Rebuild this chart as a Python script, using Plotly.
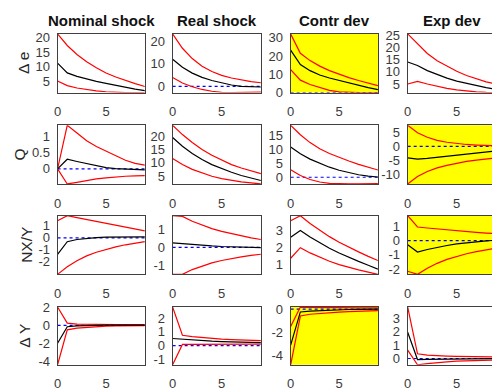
import plotly.graph_objects as go

periods = list(range(10))
shocks = ["Nominal shock", "Real shock", "Contr dev", "Exp dev"]
variables = ["Δ e", "Q", "NX/Y", "Δ Y"]

# ---- Row 1: Δ e ----
de_nominal_upper = [21.3, 17.3, 14.2, 11.7, 9.6, 7.8, 6.4, 5.2, 4.1, 3.1]
de_nominal_mid = [11.2, 7.8, 6.6, 5.7, 4.9, 4.2, 3.5, 2.8, 2.2, 1.7]
de_nominal_lower = [5.0, 3.4, 2.6, 2.0, 1.6, 1.3, 1.1, 1.0, 1.0, 1.0]
de_real_upper = [23.4, 17.0, 12.4, 9.0, 6.6, 4.9, 3.7, 2.8, 2.1, 1.6]
de_real_mid = [12.1, 8.5, 5.9, 4.0, 2.6, 1.5, 0.6, 0.0, -0.2, -0.3]
de_real_lower = [3.9, 1.5, -0.2, -1.4, -2.2, -2.7, -2.8, -2.8, -2.7, -2.6]
de_contr_upper = [32.1, 21.5, 17.5, 14.5, 12.0, 10.0, 8.2, 6.6, 5.2, 3.8]
de_contr_mid = [23.2, 15.3, 12.0, 9.6, 8.0, 6.6, 5.2, 3.9, 2.7, 1.6]
de_contr_lower = [12.6, 6.8, 4.4, 2.6, 1.2, 0.4, 0.0, 0.0, 0.0, 0.0]
de_exp_upper = [25.5, 21.5, 17.5, 14.5, 12.2, 10.2, 8.5, 7.1, 5.9, 5.0]
de_exp_mid = [14.0, 12.6, 10.5, 8.8, 7.4, 6.2, 5.2, 4.3, 3.5, 2.9]
de_exp_lower = [5.0, 6.1, 5.0, 4.0, 3.2, 2.6, 2.1, 1.8, 1.6, 1.5]

# ---- Row 2: Q ----
q_nominal_upper = [0.0, 1.36, 1.12, 0.88, 0.70, 0.55, 0.40, 0.27, 0.17, 0.12]
q_nominal_mid = [0.0, 0.30, 0.23, 0.16, 0.10, 0.04, 0.01, -0.01, -0.02, -0.03]
q_nominal_lower = [0.0, -0.47, -0.42, -0.36, -0.31, -0.28, -0.25, -0.23, -0.22, -0.21]
q_real_upper = [24.1, 20.6, 17.6, 15.0, 12.8, 10.9, 9.3, 8.0, 6.9, 5.9]
q_real_mid = [19.5, 16.2, 13.5, 11.2, 9.3, 7.7, 6.4, 5.2, 4.2, 3.3]
q_real_lower = [11.6, 9.3, 7.5, 6.1, 4.9, 4.0, 3.3, 2.8, 2.4, 2.0]
q_contr_upper = [18.6, 15.2, 12.4, 10.2, 8.5, 7.1, 5.8, 4.6, 3.5, 2.6]
q_contr_mid = [10.8, 8.4, 6.5, 5.0, 3.6, 2.5, 1.6, 0.9, 0.4, 0.1]
q_contr_lower = [2.7, 0.6, -0.8, -1.7, -2.2, -2.4, -2.4, -2.4, -2.4, -2.3]
q_exp_upper = [7.6, 4.9, 3.3, 2.2, 1.5, 1.0, 0.7, 0.5, 0.3, 0.2]
q_exp_mid = [-4.1, -4.6, -4.3, -3.9, -3.4, -3.0, -2.6, -2.2, -1.9, -1.6]
q_exp_lower = [-13.5, -10.8, -9.0, -7.7, -6.8, -6.0, -5.4, -4.9, -4.5, -4.1]

# ---- Row 3: NX/Y ----
nx_nominal_upper = [1.42, 1.84, 1.68, 1.52, 1.37, 1.22, 1.06, 0.90, 0.74, 0.58]
nx_nominal_mid = [-1.38, -0.32, -0.14, -0.04, 0.02, 0.05, 0.07, 0.08, 0.08, 0.08]
nx_nominal_lower = [-3.04, -2.40, -1.90, -1.50, -1.20, -0.95, -0.75, -0.58, -0.44, -0.32]
nx_real_upper = [1.72, 1.68, 1.42, 1.20, 1.02, 0.87, 0.74, 0.62, 0.52, 0.43]
nx_real_mid = [0.25, 0.20, 0.15, 0.11, 0.08, 0.05, 0.03, 0.01, 0.00, -0.01]
nx_real_lower = [-1.46, -1.46, -1.20, -1.00, -0.84, -0.71, -0.60, -0.51, -0.43, -0.37]
nx_contr_upper = [3.54, 3.83, 3.38, 2.98, 2.62, 2.30, 2.00, 1.74, 1.48, 1.24]
nx_contr_mid = [2.59, 2.98, 2.60, 2.25, 1.95, 1.67, 1.42, 1.19, 0.97, 0.74]
nx_contr_lower = [1.37, 1.98, 1.68, 1.42, 1.20, 1.00, 0.84, 0.70, 0.57, 0.44]
nx_exp_upper = [1.77, 0.97, 0.90, 0.83, 0.77, 0.71, 0.65, 0.59, 0.54, 0.50]
nx_exp_mid = [-0.29, -0.80, -0.62, -0.47, -0.34, -0.23, -0.14, -0.07, -0.01, 0.03]
nx_exp_lower = [-2.16, -2.38, -1.95, -1.60, -1.32, -1.10, -0.92, -0.77, -0.64, -0.52]

# ---- Row 4: Δ Y ----
dy_nominal_upper = [2.05, 0.25, 0.15, 0.12, 0.10, 0.10, 0.10, 0.10, 0.10, 0.10]
dy_nominal_mid = [-2.0, -0.15, -0.05, 0.0, 0.0, 0.02, 0.02, 0.02, 0.02, 0.02]
dy_nominal_lower = [-4.4, -0.50, -0.30, -0.20, -0.12, -0.08, -0.05, -0.04, -0.03, -0.02]
dy_real_upper = [2.8, 0.75, 0.65, 0.58, 0.52, 0.47, 0.43, 0.40, 0.37, 0.35]
dy_real_mid = [0.51, 0.45, 0.40, 0.36, 0.32, 0.29, 0.27, 0.25, 0.23, 0.21]
dy_real_lower = [-1.4, 0.08, 0.09, 0.10, 0.10, 0.10, 0.10, 0.10, 0.10, 0.10]
dy_contr_upper = [-1.5, 0.17, 0.15, 0.13, 0.12, 0.11, 0.10, 0.10, 0.10, 0.10]
dy_contr_mid = [-3.1, -0.25, -0.18, -0.13, -0.09, -0.06, -0.04, -0.03, -0.02, -0.01]
dy_contr_lower = [-4.79, -0.60, -0.45, -0.37, -0.31, -0.26, -0.22, -0.19, -0.16, -0.14]
dy_exp_upper = [3.85, 0.35, 0.25, 0.20, 0.18, 0.16, 0.15, 0.14, 0.13, 0.12]
dy_exp_mid = [1.96, -0.08, -0.06, -0.05, -0.04, -0.03, -0.02, -0.02, -0.01, -0.01]
dy_exp_lower = [0.63, -0.47, -0.38, -0.30, -0.25, -0.20, -0.17, -0.15, -0.13, -0.12]

# y tick values per panel (row by row)
yticks = [
    [[5, 10, 15, 20], [0, 10, 20], [0, 10, 20, 30], [5, 10, 15, 20, 25]],
    [[0, 0.5, 1], [5, 10, 15, 20], [0, 5, 10, 15], [-10, -5, 0, 5]],
    [[-2, -1, 0, 1], [-1, 0, 1], [1, 2, 3], [-2, -1, 0, 1]],
    [[-4, -2, 0, 2], [-1, 0, 1, 2], [-4, -2, 0], [0, 1, 2, 3]],
]
xticks = [0, 5]
highlighted = [(0, 2), (1, 3), (2, 3), (3, 2)]

panels = [
    [(de_nominal_upper, de_nominal_mid, de_nominal_lower),
     (de_real_upper, de_real_mid, de_real_lower),
     (de_contr_upper, de_contr_mid, de_contr_lower),
     (de_exp_upper, de_exp_mid, de_exp_lower)],
    [(q_nominal_upper, q_nominal_mid, q_nominal_lower),
     (q_real_upper, q_real_mid, q_real_lower),
     (q_contr_upper, q_contr_mid, q_contr_lower),
     (q_exp_upper, q_exp_mid, q_exp_lower)],
    [(nx_nominal_upper, nx_nominal_mid, nx_nominal_lower),
     (nx_real_upper, nx_real_mid, nx_real_lower),
     (nx_contr_upper, nx_contr_mid, nx_contr_lower),
     (nx_exp_upper, nx_exp_mid, nx_exp_lower)],
    [(dy_nominal_upper, dy_nominal_mid, dy_nominal_lower),
     (dy_real_upper, dy_real_mid, dy_real_lower),
     (dy_contr_upper, dy_contr_mid, dy_contr_lower),
     (dy_exp_upper, dy_exp_mid, dy_exp_lower)],
]

# ---- layout geometry (pixels) ----
W, H = 492, 392
col_px = [(54, 142), (170, 259), (289, 377), (407, 496)]
row_px = [(28, 89), (123, 184), (217, 278), (312, 372)]
ylabel_x = [19, 16, 22, 21]

FONT = "Liberation Sans, Arial, Helvetica, sans-serif"
TICK_COLOR = "#3a3a3a"
AX_COLOR = "#404040"


def fmt(v):
    return "%g" % v


fig = go.Figure()
layout = dict(
    width=W, height=H, margin=dict(l=0, r=0, t=0, b=0),
    paper_bgcolor="white", plot_bgcolor="white", showlegend=False,
    font=dict(family=FONT, size=13, color=TICK_COLOR),
    annotations=[], shapes=[],
)

n = 0
for r in range(4):
    for c in range(4):
        n += 1
        xa = "xaxis" if n == 1 else "xaxis%d" % n
        ya = "yaxis" if n == 1 else "yaxis%d" % n
        xr = "x" if n == 1 else "x%d" % n
        yr = "y" if n == 1 else "y%d" % n
        upper, mid, lower = panels[r][c]
        x0p, x1p = col_px[c]
        y0p, y1p = row_px[r]
        dom_x1 = min(1.0, x1p / W)
        x_max = 9 * (dom_x1 * W - x0p) / (x1p - x0p)
        ymin = min(min(upper), min(mid), min(lower))
        ymax = max(max(upper), max(mid), max(lower))

        fig.add_trace(go.Scatter(x=periods, y=[0] * len(periods), mode="lines",
                                 line=dict(color="#0000ff", width=1.2, dash="dot"),
                                 xaxis=xr, yaxis=yr, hoverinfo="skip"))
        for series, col in ((upper, "#ff0000"), (lower, "#ff0000"), (mid, "#000000")):
            fig.add_trace(go.Scatter(x=periods, y=series, mode="lines",
                                     line=dict(color=col, width=1.2),
                                     xaxis=xr, yaxis=yr, hoverinfo="skip"))

        if (r, c) in highlighted:
            layout["shapes"].append(dict(type="rect", xref=xr + " domain", yref=yr + " domain",
                                         x0=0, x1=1, y0=0, y1=1, fillcolor="#ffff00",
                                         line=dict(width=0), layer="below"))

        layout[xa] = dict(
            domain=[x0p / W, dom_x1], anchor=yr, range=[0, x_max],
            tickvals=xticks, ticktext=[fmt(v) for v in xticks],
            showgrid=False, zeroline=False, ticks="",
            showline=True, linecolor=AX_COLOR, linewidth=1, mirror=True,
            ticklabelstandoff=7, tickfont=dict(size=13, color=TICK_COLOR),
        )
        layout[ya] = dict(
            domain=[(H - y1p) / H, (H - y0p) / H], anchor=xr, range=[ymin, ymax],
            tickvals=yticks[r][c], ticktext=[fmt(v) for v in yticks[r][c]],
            showgrid=False, zeroline=False, ticks="",
            showline=True, linecolor=AX_COLOR, linewidth=1, mirror=(c != 3),
            ticklabelstandoff=4, tickfont=dict(size=13, color=TICK_COLOR),
        )

for c, title in enumerate(shocks):
    x0p, x1p = col_px[c]
    layout["annotations"].append(dict(
        text="<b>%s</b>" % title, x=(x0p + x1p) / 2 / W, y=(H - 14) / H,
        xref="paper", yref="paper", showarrow=False, xanchor="center", yanchor="middle",
        font=dict(family=FONT, size=15, color="#111111")))

for r, lab in enumerate(variables):
    y0p, y1p = row_px[r]
    layout["annotations"].append(dict(
        text=lab, x=ylabel_x[r] / W, y=(H - (y0p + y1p) / 2) / H,
        xref="paper", yref="paper", showarrow=False, xanchor="center", yanchor="middle",
        textangle=-90, font=dict(family=FONT, size=15.5, color="#262626")))

fig.update_layout(**layout)
fig.write_html("out.html", config={"displayModeBar": False},
               post_script="document.body.style.margin='0';document.body.style.overflow='hidden';")
